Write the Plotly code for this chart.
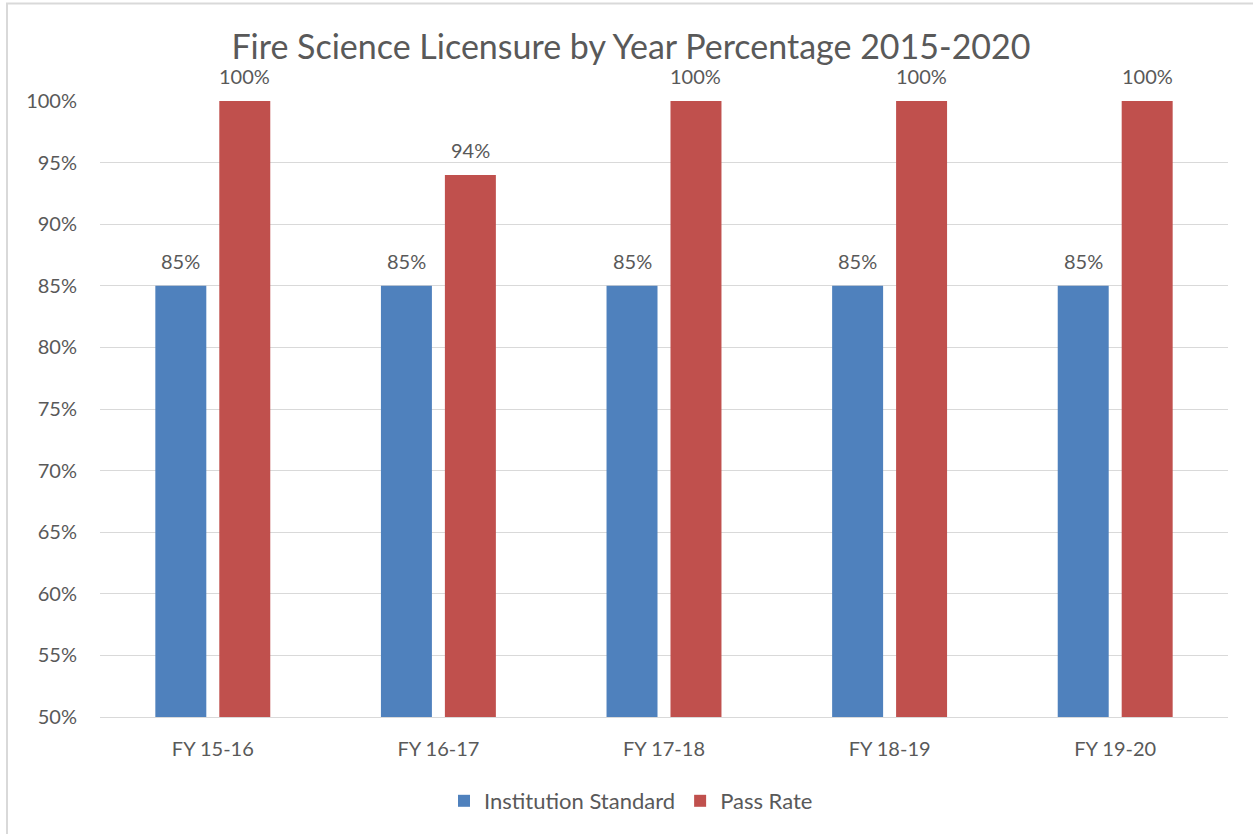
import plotly.graph_objects as go

categories = ["FY 15-16", "FY 16-17", "FY 17-18", "FY 18-19", "FY 19-20"]
institution_standard = [85, 85, 85, 85, 85]
pass_rate = [100, 94, 100, 100, 100]
y_ticks = [50, 55, 60, 65, 70, 75, 80, 85, 90, 95, 100]

W, H = 1253, 834
L, R, T, B = 100, 25, 101, 117
pw, ph = W - L - R, H - T - B

font_family = "Lato, Carlito, Calibri, sans-serif"
grey = "#595959"

BARGAP = 0.433
GROUPGAP = 0.203
cat_px = pw / len(categories)
slot_px = cat_px * (1 - BARGAP) / 2

fig = go.Figure()
series = [("Institution Standard", institution_standard, "#4F81BD"),
          ("Pass Rate", pass_rate, "#C0504D")]
for i, (name, vals, color) in enumerate(series):
    fig.add_trace(go.Bar(name=name, x=categories, y=vals, marker_color=color,
                         marker_line_width=0))
    xshift = (i - 0.5) * slot_px
    for c, v in zip(categories, vals):
        fig.add_annotation(x=c, y=v, text=f"{v}%", showarrow=False,
                           xshift=xshift, yshift=25, yanchor="middle",
                           font=dict(size=20, color=grey, family=font_family))

fig.update_layout(
    width=W, height=H,
    margin=dict(l=L, r=R, t=T, b=B, autoexpand=False),
    paper_bgcolor="white", plot_bgcolor="white",
    barmode="group", bargap=BARGAP, bargroupgap=GROUPGAP,
    font=dict(family=font_family, color=grey, size=20),
    title=dict(text="Fire Science Licensure by Year Percentage 2015-2020",
               x=631 / W, xanchor="center", y=1 - 47 / H, yanchor="middle",
               font=dict(size=34, color=grey, family=font_family)),
    legend=dict(orientation="h", x=(631 - L) / pw, xanchor="center",
                y=-(801 - (T + ph)) / ph, yanchor="middle",
                font=dict(size=22, color=grey), traceorder="normal"),
    showlegend=True,
)
fig.update_yaxes(range=[50, 100], tickvals=y_ticks, ticktext=[f"{v}%" for v in y_ticks],
                 showgrid=True, gridcolor="#D9D9D9", gridwidth=1, zeroline=False,
                 showline=False, ticks="", tickfont=dict(size=20, color=grey),
                 ticklabelstandoff=22)
fig.update_xaxes(showline=True, linecolor="#D9D9D9", linewidth=1, ticks="",
                 tickfont=dict(size=20, color=grey), ticklabelstandoff=14)

fig.add_shape(type="rect", xref="paper", yref="paper",
              x0=(7 - L) / pw, x1=(W + 20 - L) / pw,
              y0=-(H + 20 - (T + ph)) / ph, y1=1 + (T - 3.5) / ph,
              line=dict(color="#D9D9D9", width=2), fillcolor="rgba(0,0,0,0)", layer="below")

fig.write_html("out.html", config={"displayModeBar": False},
               post_script="document.body.style.margin='0';document.body.style.overflow='hidden';")
